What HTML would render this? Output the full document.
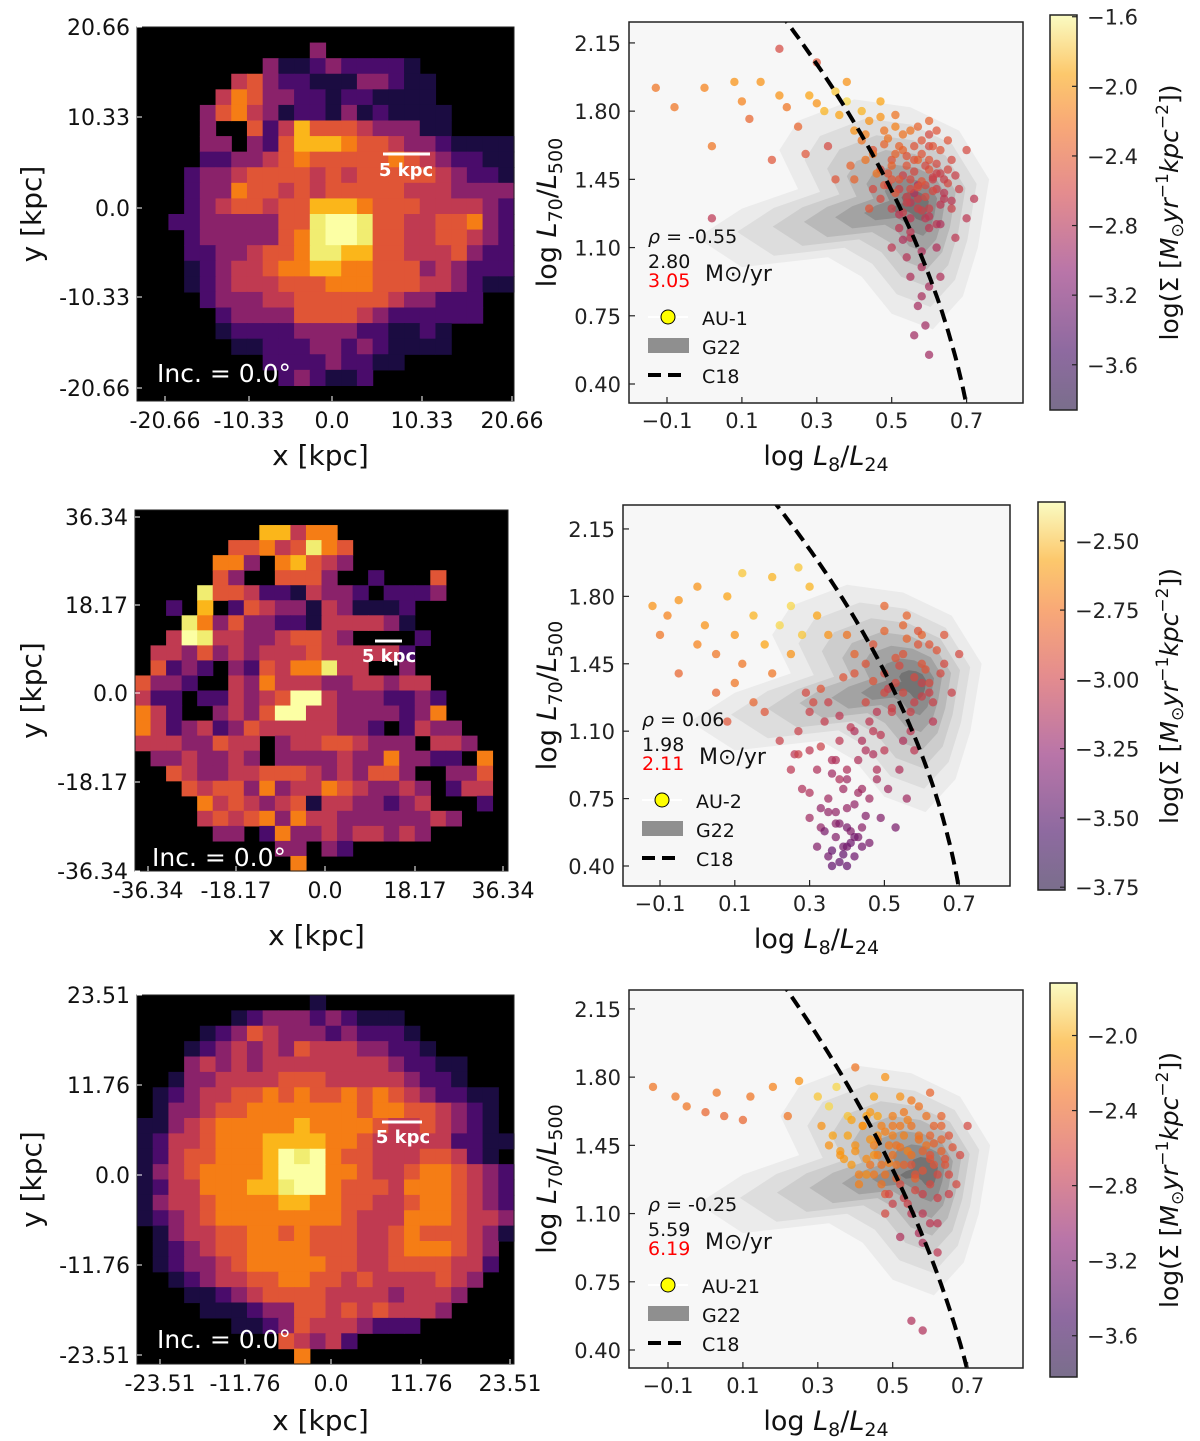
<!DOCTYPE html>
<html><head><meta charset="utf-8">
<style>
html,body{margin:0;padding:0;background:#fff;}
svg{display:block;font-family:"DejaVu Sans","Liberation Sans",sans-serif;}
</style></head>
<body>
<svg id="fig" width="1200" height="1441" viewBox="0 0 1200 1441" xmlns="http://www.w3.org/2000/svg">
<defs>
<linearGradient id="cbgrad" x1="0" y1="1" x2="0" y2="0">
<stop offset="0" stop-color="#7a6e8c"/><stop offset="0.15" stop-color="#8e6aa0"/><stop offset="0.35" stop-color="#b975a8"/>
<stop offset="0.55" stop-color="#e48c8e"/><stop offset="0.72" stop-color="#f8a877"/><stop offset="0.85" stop-color="#fcc86c"/>
<stop offset="1" stop-color="#fafbc2"/>
</linearGradient>
</defs>
</svg>
<script>
// ---------------- DATA ----------------
const mapGrid1 = [
"000000000000000000000000","000000000003000000000000","000000003112322221000000","000000453221113321100000",
"000004653322122111100000","000035643122131211110000","000030052475554333110000","000033032577765543321111",
"000022334565555565432211","000233455554545555543221","000233655454555554443333","000234554557776555444432",
"002233333558998554455632","000233333568998554455432","000223345568877554445322","000123445667766555343222",
"000123444555666555443211","000023334455555543322200","000002333355554322222200","000001222233332211210000",
"000000112223323211110000","000000002222322110000000","000000000232112000000000","000000000000000000000000"];
const mapGrid2 = [
"000000000000000000000000","000000007746600000000000","000000556458650000000000","000006630675430000000000",
"000005300555300200050000","000085542214332022230000","002070254331431112000000","000863533221444431000000",
"004984433455430000200000","044353434445444442000000","052320325466844003000000","533200436444334434400000",
"422022434599433322320000","642003435994433332360000","642342354444433202433000","444335440344554333044300",
"033433430333343363322060","005433445554343553003350","000545536344654334302440","000064543451443323400020",
"000045456364433333343000","000003302633434434300000","000000000330320000000000","000000000060000000000000"];
const mapGrid3 = [
"000000000001000000000000","000000123332321110000000","000012354333232221000000","000123434354443322100000",
"000343434444444432211000","001334444555444443221000","012344556565565654322110","013345566666665665543210",
"113456666676666544543210","124456667777665444442211","124556667989655444554210","134566667999665445665432",
"124466677899655546665432","134456666776655445665432","123456666666654446665443","013445566565554456555431",
"012345566665554456665430","012334566666554455554420","001234455665545444454300","000112345555444434443000",
"000011123355454544430000","000000112354443222000000","000000000543420000000000","000000000060000000000000"];

const imgTicks1 = ["-20.66","-10.33","0.0","10.33","20.66"];
const imgTicks2 = ["-36.34","-18.17","0.0","18.17","36.34"];
const imgTicks3 = ["-23.51","-11.76","0.0","11.76","23.51"];

const xTickVals = [-0.1,0.1,0.3,0.5,0.7];
const yTickVals = [0.40,0.75,1.10,1.45,1.80,2.15];

// scatter series: x = log L8/L24, y = log L70/L500, c = normalised colour (0..1)
const sx1 = [-0.13,-0.08,0.0,0.02,0.08,0.1,0.12,0.15,0.18,0.2,0.22,0.25,0.28,0.3,0.32,0.35,0.36,0.38,0.4,0.42,0.2,0.3,0.02,0.38,0.27,
 0.45,0.47,0.5,0.52,0.55,0.57,0.6,0.62,0.5,0.53,0.48,0.58,0.65,0.66,0.55,0.6,0.63,0.45,0.5,0.57,0.6,0.52,0.68,0.7,0.43,0.55,0.6,0.65,0.47,0.54,0.59,0.62,0.58,0.55,0.6,0.57,0.59,0.56,0.6,0.58,0.54,0.63,0.5,0.67,0.44,0.4,0.42,0.51,0.47,0.44,
 0.56,0.61,0.64,0.49,0.53,0.58,0.62,0.66,0.52,0.57,0.6,0.55,0.48,0.63,0.7,0.72,0.35,0.33,0.39,
 0.49,0.51,0.53,0.55,0.57,0.59,0.61,0.63,0.65,0.50,0.52,0.54,0.56,0.58,0.60,0.62,0.64,0.48,0.46,0.53,0.57,0.61,0.55,0.59,0.63,0.51,0.56,0.60,0.54,0.58,0.62,0.66,0.52,0.57,0.61,0.45,0.49,0.55,0.60,0.64,0.53,0.58,0.43,0.47,0.51,0.56,0.62,0.67,0.59,0.54];
const sy1 = [1.92,1.82,1.92,1.62,1.95,1.85,1.76,1.95,1.55,1.88,1.82,1.72,1.88,1.84,1.8,1.9,1.78,1.85,1.7,1.8,2.12,2.05,1.25,1.95,1.58,
 1.6,1.5,1.55,1.4,1.45,1.35,1.5,1.4,1.3,1.6,1.7,1.65,1.5,1.3,1.25,1.2,1.6,1.4,1.45,1.55,1.3,1.2,1.4,1.25,1.55,1.7,1.75,1.65,1.35,1.52,1.42,1.1,1.0,0.95,0.9,0.8,0.7,0.65,0.55,0.85,1.05,0.95,1.1,1.15,1.3,1.45,1.65,1.78,1.85,1.75,
 1.38,1.45,1.35,1.48,1.28,1.58,1.22,1.55,1.62,1.42,1.62,1.15,1.42,1.48,1.6,1.35,1.45,1.62,1.52,
 1.42,1.38,1.47,1.33,1.41,1.36,1.46,1.32,1.43,1.52,1.27,1.57,1.49,1.29,1.55,1.48,1.38,1.63,1.48,1.68,1.72,1.62,1.18,1.25,1.22,1.58,1.62,1.68,1.36,1.44,1.53,1.34,1.45,1.30,1.39,1.58,1.66,1.40,1.26,1.45,1.14,1.08,1.68,1.77,1.72,1.55,1.70,1.47,1.52,1.33];
const sc1 = [.6,.6,.65,.6,.7,.65,.55,.7,.5,.7,.6,.55,.75,.7,.8,.85,.75,.9,.7,.8,.45,.5,.35,.7,.5,
 .5,.45,.5,.4,.45,.4,.5,.4,.4,.55,.6,.5,.45,.4,.35,.35,.5,.45,.5,.55,.4,.35,.4,.35,.6,.6,.55,.5,.45,.5,.45,.3,.3,.3,.28,.27,.25,.25,.25,.28,.32,.3,.35,.35,.5,.55,.6,.6,.75,.7,
 .3,.4,.35,.5,.4,.5,.35,.45,.55,.3,.45,.35,.5,.4,.45,.35,.5,.45,.55,
 .45,.5,.4,.35,.5,.45,.4,.35,.45,.55,.35,.5,.45,.4,.5,.4,.35,.55,.6,.6,.55,.5,.35,.35,.3,.55,.5,.45,.4,.5,.45,.35,.5,.4,.45,.6,.6,.45,.35,.4,.3,.3,.65,.7,.65,.5,.5,.4,.45,.4];

const sx2 = [-0.12,-0.08,-0.05,-0.1,0.0,0.02,0.05,0.0,0.08,0.1,0.12,0.15,0.18,0.2,0.22,0.25,0.28,0.3,0.05,0.1,0.15,0.2,0.25,-0.05,0.32,0.35,0.12,0.27,0.18,0.08,
 0.3,0.32,0.28,0.35,0.38,0.4,0.33,0.37,0.4,0.35,0.38,0.42,0.44,0.46,0.3,0.25,0.22,0.27,0.43,0.48,0.5,0.36,0.4,0.32,
 0.5,0.55,0.6,0.58,0.62,0.52,0.65,0.55,0.47,0.6,0.68,0.53,0.45,0.63,0.7,0.57,0.42,0.5,0.4,
 0.3,0.34,0.38,0.42,0.45,0.48,0.36,0.4,0.44,0.33,0.29,0.37,0.41,0.46,0.51,0.54,0.58,0.56,0.6,0.62,0.66,0.55,0.5,0.47,0.39,0.43,0.35,0.31,0.26,0.49,0.53,
 0.35,0.38,0.41,0.44,0.47,0.36,0.39,0.42,0.45,0.48,0.33,0.37,0.40,0.43,0.46,0.49,0.52,0.55,0.58,0.61,0.53,0.56,0.59,0.62,0.64,0.57,0.60,0.51,0.54,0.66,0.34,0.38,0.41,0.36,0.39,0.42,0.37,0.40,0.44,0.30,0.27,0.33,0.47,0.50,0.56,0.59,0.63,0.45,0.42,0.39];
const sy2 = [1.75,1.7,1.78,1.6,1.55,1.65,1.5,1.85,1.8,1.6,1.45,1.7,1.55,1.9,1.65,1.75,1.6,1.85,1.3,1.35,1.25,1.4,1.5,1.4,1.7,1.6,1.92,1.95,1.2,1.15,
 1.0,0.9,0.8,0.75,0.85,0.7,0.6,0.55,0.5,0.45,0.42,0.45,0.6,0.75,0.65,0.9,1.05,1.1,0.95,0.9,1.0,0.4,0.4,0.5,
 1.4,1.5,1.35,1.25,1.55,1.2,1.4,1.65,1.55,1.45,1.3,1.35,1.25,1.15,1.5,1.1,1.4,1.75,1.6,
 1.2,1.15,1.05,1.1,1.0,1.2,0.95,0.85,0.8,0.7,1.3,0.62,0.58,0.52,0.8,0.9,1.0,0.75,1.6,1.3,1.45,1.05,1.3,1.1,0.5,0.55,0.68,1.25,0.98,0.65,0.6,
 1.25,1.18,1.12,1.05,0.98,0.88,0.80,0.72,0.66,0.85,1.02,0.95,0.90,0.78,1.15,1.08,1.22,1.30,1.38,1.42,1.48,1.58,1.62,1.35,1.52,1.2,1.28,1.32,1.44,1.60,0.58,0.62,0.52,0.48,0.46,0.55,0.68,0.60,0.50,0.78,0.98,1.32,1.36,1.62,1.70,1.55,1.25,1.45,1.50,1.38];
const sc2 = [.7,.65,.7,.6,.65,.7,.6,.7,.75,.7,.6,.8,.75,.8,.9,.9,.85,.8,.55,.6,.55,.6,.7,.55,.75,.7,.85,.85,.5,.5,
 .35,.3,.3,.25,.3,.22,.2,.15,.1,.1,.05,.08,.18,.25,.25,.35,.4,.4,.3,.3,.35,.05,.05,.15,
 .45,.5,.4,.4,.5,.4,.45,.55,.5,.5,.4,.45,.45,.35,.45,.35,.5,.55,.6,
 .4,.38,.35,.3,.3,.35,.3,.25,.25,.2,.45,.18,.15,.12,.25,.3,.35,.25,.55,.4,.45,.3,.45,.35,.1,.12,.2,.45,.35,.15,.12,
 .4,.35,.35,.3,.3,.25,.25,.2,.15,.28,.4,.3,.3,.25,.35,.35,.4,.45,.45,.5,.5,.55,.5,.45,.5,.4,.4,.4,.45,.5,.12,.15,.08,.06,.05,.1,.2,.12,.1,.3,.4,.5,.5,.55,.55,.5,.4,.5,.55,.5];

const sx3 = [-0.14,-0.08,-0.05,0.0,0.05,0.1,0.03,0.12,0.18,0.22,0.25,0.3,0.33,0.35,0.38,0.45,0.4,0.48,0.42,0.5,0.55,0.6,0.45,0.5,0.55,0.6,0.65,0.52,0.58,0.62,0.48,0.53,0.57,0.63,0.68,0.55,0.5,0.6,0.65,0.44,0.4,0.38,0.47,0.58,0.55,0.58,0.62,0.7,0.52,
 0.36,0.39,0.43,0.46,0.49,0.51,0.54,0.56,0.59,0.61,0.64,0.67,0.41,0.33,0.31,0.46,0.52,0.57,0.6,0.63,0.53,0.48,0.45,0.43,
 0.40,0.43,0.46,0.49,0.52,0.55,0.58,0.61,0.64,0.42,0.45,0.48,0.51,0.54,0.57,0.60,0.63,0.66,0.37,0.34,0.44,0.47,0.50,0.53,0.56,0.59,0.62,0.41,0.46,0.51,0.56,0.61,0.49,0.54,0.58,0.62,0.52,0.57,0.48,0.44,0.39,0.36,0.55,0.60,0.65,0.53,0.58,0.50,0.47,0.63];
const sy3 = [1.75,1.7,1.65,1.62,1.6,1.58,1.72,1.7,1.75,1.6,1.78,1.7,1.65,1.75,1.6,1.7,1.85,1.8,1.55,1.6,1.55,1.5,1.45,1.4,1.35,1.4,1.5,1.25,1.2,1.3,1.3,1.5,1.65,1.6,1.4,1.1,1.15,1.05,1.2,1.35,1.45,1.5,1.55,0.95,0.55,0.5,0.9,1.55,1.7,
 1.4,1.35,1.3,1.5,1.45,1.35,1.42,1.28,1.45,1.55,1.35,1.25,1.25,1.45,1.55,1.6,1.55,1.48,1.38,1.42,1.18,1.2,1.4,1.6,
 1.42,1.38,1.48,1.36,1.44,1.40,1.32,1.46,1.38,1.55,1.30,1.52,1.28,1.58,1.50,1.25,1.55,1.44,1.38,1.50,1.62,1.25,1.50,1.62,1.22,1.60,1.18,1.30,1.40,1.45,1.30,1.35,1.20,1.15,1.10,1.05,0.98,1.00,1.10,1.48,1.58,1.42,1.68,1.72,1.30,1.35,1.42,1.55,1.35,1.48];
const sc3 = [.6,.6,.6,.55,.55,.55,.6,.6,.65,.6,.7,.85,.9,.9,.85,.75,.6,.7,.7,.65,.6,.55,.65,.6,.5,.5,.5,.45,.4,.45,.6,.65,.6,.55,.45,.35,.4,.35,.4,.6,.7,.75,.65,.3,.3,.3,.35,.45,.7,
 .7,.72,.68,.7,.62,.6,.65,.55,.6,.55,.5,.45,.65,.7,.7,.75,.62,.6,.5,.55,.4,.5,.7,.75,
 .7,.68,.65,.65,.6,.6,.5,.55,.5,.7,.62,.65,.55,.65,.6,.45,.55,.5,.72,.75,.72,.6,.65,.62,.45,.6,.4,.65,.65,.6,.5,.5,.45,.4,.35,.35,.3,.3,.45,.7,.75,.72,.62,.55,.45,.55,.55,.62,.6,.55];

// G22 contour outline (data coords) and level fractions
const contourX = [0.25,0.40,0.55,0.68,0.76,0.73,0.69,0.61,0.50,0.42,0.33,0.10,-0.02,0.10,0.25,0.20];
const contourY = [1.75,1.86,1.82,1.70,1.45,1.10,0.85,0.68,0.76,0.95,1.05,1.00,1.15,1.30,1.40,1.60];
const contourLevels = [1.0,0.82,0.66,0.52,0.38,0.25,0.13];

// C18 relation: three points per panel, curve drawn as quadratic x(y) through them
const c18x1 = [0.220,0.503,0.698];
const c18y1 = [2.257,1.380,0.308];
const c18x2 = [0.218,0.518,0.699];
const c18y2 = [2.259,1.340,0.286];
const c18x3 = [0.218,0.485,0.698];
const c18y3 = [2.247,1.385,0.308];

const cbTicks1 = [-1.6,-2.0,-2.4,-2.8,-3.2,-3.6];
const cbTicks2 = [-2.50,-2.75,-3.00,-3.25,-3.50,-3.75];
const cbTicks3 = [-2.0,-2.4,-2.8,-3.2,-3.6];

// ---------------- RENDER ----------------
const NS="http://www.w3.org/2000/svg";
const svg=document.getElementById('fig');
function el(tag,attrs,parent){const e=document.createElementNS(NS,tag);for(const k in attrs)e.setAttribute(k,attrs[k]);(parent||svg).appendChild(e);return e;}
const levelCol=['#000000','#1b0c41','#4a0c6b','#8a226a','#c03a51','#e05536','#f57d15','#fbb61a','#f1ed71','#fcffa4'];
const inf=[[0,[0,0,4]],[0.1,[22,11,57]],[0.2,[66,10,104]],[0.3,[106,23,110]],[0.4,[147,38,103]],[0.5,[188,55,84]],[0.6,[221,81,58]],[0.7,[243,120,25]],[0.8,[252,165,10]],[0.9,[246,215,70]],[1,[252,255,164]]];
function infCol(t){t=Math.max(0,Math.min(1,t));for(let i=1;i<inf.length;i++){if(t<=inf[i][0]){const a=inf[i-1],b=inf[i];const f=(t-a[0])/(b[0]-a[0]);const c=a[1].map((v,j)=>Math.round(v+(b[1][j]-v)*f));return 'rgb('+c.join(',')+')';}}return 'rgb(252,255,164)';}
function lagrangeX(xs,ys,y){let s=0;for(let i=0;i<xs.length;i++){let l=1;for(let j=0;j<xs.length;j++){if(j!==i)l*=(y-ys[j])/(ys[i]-ys[j]);}s+=xs[i]*l;}return s;}

const rows=[
 {grid:mapGrid1,ticks:imgTicks1,img:[137,27,514,401],xt:[165,249,332,422,512],yt:[27,117,208,297,388],sb:[383,430,154,406,176],inc:[157,382],xlab:455,
  sc:{x:sx1,y:sy1,c:sc1},plot:[629,22,1023,403],x0:667,ux:374.5,y0:384,uy:194.9,cen:[0.575,1.32],cx:c18x1,cy:c18y1,au:'AU-1',rho:'-0.55',s1:'2.80',s2:'3.05',
  cb:[1050,15,1077,410],cbt:cbTicks1,cbTop:-1.59,cbBot:-3.86},
 {grid:mapGrid2,ticks:imgTicks2,img:[135,510,508,871],xt:[148,236,325,415,503],yt:[517,605,693,782,871],sb:[375,402,641,389,662],inc:[152,866],xlab:935,
  sc:{x:sx2,y:sy2,c:sc2},plot:[623,505,1010,886],x0:660,ux:374,y0:866,uy:192.6,cen:[0.59,1.35],cx:c18x2,cy:c18y2,au:'AU-2',rho:'0.06',s1:'1.98',s2:'2.11',
  cb:[1038,502,1065,890],cbt:cbTicks2,cbTop:-2.36,cbBot:-3.76},
 {grid:mapGrid3,ticks:imgTicks3,img:[137,995,514,1364],xt:[160,245,331,421,510],yt:[995,1085,1175,1265,1355],sb:[382,422,1122,403,1143],inc:[157,1348],xlab:1420,
  sc:{x:sx3,y:sy3,c:sc3},plot:[629,990,1023,1368],x0:668,ux:374.5,y0:1350,uy:194.9,cen:[0.6,1.32],cx:c18x3,cy:c18y3,au:'AU-21',rho:'-0.25',s1:'5.59',s2:'6.19',
  cb:[1050,983,1077,1377],cbt:cbTicks3,cbTop:-1.72,cbBot:-3.82}
];

rows.forEach((R,ri)=>{
  const g=el('g',{});
  
  
  const [ix0,iy0,ix1,iy1]=R.img;
  const bg=el('rect',{x:ix0,y:iy0,width:ix1-ix0,height:iy1-iy0,fill:'#000'},g);
  
  
  const n=R.grid.length, cw=(ix1-ix0)/n, ch=(iy1-iy0)/n;
  R.grid.forEach((row,r)=>{for(let c=0;c<row.length;c++){const v=+row[c];if(v>0){
    const cell=el('rect',{x:(ix0+c*cw).toFixed(2),y:(iy0+r*ch).toFixed(2),width:(cw+0.6).toFixed(2),height:(ch+0.6).toFixed(2),fill:levelCol[v]},g);
    
    
  }}});
  el('rect',{x:ix0,y:iy0,width:ix1-ix0,height:iy1-iy0,fill:'none',stroke:'#222','stroke-width':1},g);
  R.ticks.forEach((t,i)=>{
    const xl=el('text',{x:R.xt[i],y:iy1+27,'font-size':22,'text-anchor':'middle',fill:'#111'},g);xl.textContent=t;
    
    
    el('line',{x1:R.xt[i],x2:R.xt[i],y1:iy1,y2:iy1-5,stroke:'#fff','stroke-width':1},g);
    const yv=R.ticks[R.ticks.length-1-i];
    const yl=el('text',{x:ix0-7,y:R.yt[i]+8,'font-size':22,'text-anchor':'end',fill:'#111'},g);yl.textContent=yv;
    
    
    el('line',{x1:ix0,x2:ix0+5,y1:R.yt[i],y2:R.yt[i],stroke:'#fff','stroke-width':1},g);
  });
  const xlab=el('text',{x:(ix0+ix1)/2-5,y:R.xlab+10,'font-size':28,'text-anchor':'middle',fill:'#111'},g);xlab.textContent='x [kpc]';
  
  
  const ylab=el('text',{x:0,y:0,'font-size':28,'text-anchor':'middle',fill:'#111',transform:`translate(41,${(iy0+iy1)/2}) rotate(-90)`},g);ylab.textContent='y [kpc]';
  
  
  const [sbx0,sbx1,sby,stx,sty]=R.sb;
  const sbl=el('line',{x1:sbx0,x2:sbx1,y1:sby,y2:sby,stroke:'#fff','stroke-width':3},g);
  
  
  const sbt=el('text',{x:stx,y:sty,'font-size':18,'font-weight':'bold','text-anchor':'middle',fill:'#fff'},g);sbt.textContent='5 kpc';
  
  
  const inc=el('text',{x:R.inc[0],y:R.inc[1],'font-size':25,fill:'#fff'},g);inc.textContent='Inc. = 0.0°';
  
  

  const sg=el('g',{});
  
  
  const [px0,py0,px1,py1]=R.plot;
  const X=v=>R.x0+(v+0.1)*R.ux, Y=v=>R.y0-(v-0.4)*R.uy;
  const cid='clip'+ri;
  const cp=el('clipPath',{id:cid},sg);el('rect',{x:px0,y:py0,width:px1-px0,height:py1-py0},cp);
  el('rect',{x:px0,y:py0,width:px1-px0,height:py1-py0,fill:'#f7f7f7'},sg);
  const inner=el('g',{'clip-path':`url(#${cid})`},sg);
  const greys=['#ebebeb','#dddddd','#cdcdcd','#b9b9b9','#a3a3a3','#8c8c8c','#737373'];
  contourLevels.forEach((s,li)=>{
    const pts=contourX.map((x,i)=>{const dx=R.cen[0]+(x-R.cen[0])*s, dy=R.cen[1]+(contourY[i]-R.cen[1])*s;return X(dx).toFixed(1)+','+Y(dy).toFixed(1);}).join(' ');
    const p=el('polygon',{points:pts,fill:greys[li]},inner);
    
    
  });
  R.sc.x.forEach((x,i)=>{
    const d=el('circle',{cx:X(x).toFixed(1),cy:Y(R.sc.y[i]).toFixed(1),r:4.2,fill:infCol(0.25+0.72*R.sc.c[i]),'fill-opacity':0.72},inner);
    
    
  });
  const yTop=Math.max(...R.cy)+0.05, yBot=Math.min(...R.cy)-0.05;
  let dpath='';
  for(let k=0;k<=60;k++){const yy=yTop+(yBot-yTop)*k/60;const xx=lagrangeX(R.cx,R.cy,yy);dpath+=(k?'L':'M')+X(xx).toFixed(1)+' '+Y(yy).toFixed(1);}
  const c18=el('path',{d:dpath,fill:'none',stroke:'#000','stroke-width':4,'stroke-dasharray':'13,7'},inner);
  
  
  el('rect',{x:px0,y:py0,width:px1-px0,height:py1-py0,fill:'none',stroke:'#222','stroke-width':1.5},sg);
  xTickVals.forEach(v=>{
    el('line',{x1:X(v),x2:X(v),y1:py1,y2:py1-6,stroke:'#222','stroke-width':1.2},sg);
    const t=el('text',{x:X(v),y:py1+25,'font-size':21,'text-anchor':'middle',fill:'#222'},sg);t.textContent=(v<0?'\u2212':'')+Math.abs(v).toFixed(1);
    
    
  });
  yTickVals.forEach(v=>{
    el('line',{x1:px0,x2:px0+6,y1:Y(v),y2:Y(v),stroke:'#222','stroke-width':1.2},sg);
    const t=el('text',{x:px0-8,y:Y(v)+8,'font-size':21,'text-anchor':'end',fill:'#222'},sg);t.textContent=v.toFixed(2);
    
    
  });
  const xt=el('text',{x:(px0+px1)/2,y:py1+62,'font-size':27,'text-anchor':'middle',fill:'#111'},sg);
  xt.innerHTML='log  <tspan font-style="italic">L</tspan><tspan font-size="19" dy="6">8</tspan><tspan dy="-6">/</tspan><tspan font-style="italic">L</tspan><tspan font-size="19" dy="6">24</tspan>';
  
  
  const yt=el('text',{x:0,y:0,'font-size':27,'text-anchor':'middle',fill:'#111',transform:`translate(556,${(py0+py1)/2}) rotate(-90)`},sg);
  yt.innerHTML='log  <tspan font-style="italic">L</tspan><tspan font-size="19" dy="6">70</tspan><tspan dy="-6">/</tspan><tspan font-style="italic">L</tspan><tspan font-size="19" dy="6">500</tspan>';
  
  
  const lx=px0+19, ly=py0;
  const rho=el('text',{x:lx,y:ly+221,'font-size':19,fill:'#111'},sg);rho.innerHTML='<tspan font-style="italic">ρ</tspan> = '+R.rho;
  
  
  const s1=el('text',{x:lx,y:ly+246,'font-size':19,fill:'#111'},sg);s1.textContent=R.s1;
  
  
  const s2=el('text',{x:lx,y:ly+265,'font-size':19,fill:'#f00'},sg);s2.textContent=R.s2;
  
  
  const un=el('text',{x:lx+57,y:ly+259,'font-size':22,fill:'#111'},sg);un.textContent='M\u2299/yr';
  
  
  el('line',{x1:lx,x2:lx+40,y1:ly+295,y2:ly+295,stroke:'#fff','stroke-width':2},sg);
  const au=el('circle',{cx:lx+20,cy:ly+295,r:7,fill:'#ffff00',stroke:'#000','stroke-width':1},sg);
  
  
  const aut=el('text',{x:lx+54,y:ly+303,'font-size':19,fill:'#111'},sg);aut.textContent=R.au;
  
  
  const gr=el('rect',{x:lx,y:ly+316,width:41,height:15,fill:'#8f8f8f'},sg);
  
  
  const grt=el('text',{x:lx+54,y:ly+332,'font-size':19,fill:'#111'},sg);grt.textContent='G22';
  
  
  const dl=el('line',{x1:lx,x2:lx+40,y1:ly+353,y2:ly+353,stroke:'#000','stroke-width':4,'stroke-dasharray':'13,7'},sg);
  
  
  const dlt=el('text',{x:lx+54,y:ly+361,'font-size':19,fill:'#111'},sg);dlt.textContent='C18';
  
  

  const cg=el('g',{});
  
  
  const [bx0,by0,bx1,by1]=R.cb;
  el('rect',{x:bx0,y:by0,width:bx1-bx0,height:by1-by0,fill:'url(#cbgrad)',stroke:'#222','stroke-width':1.5},cg);
  R.cbt.forEach(v=>{
    const yy=by0+(R.cbTop-v)/(R.cbTop-R.cbBot)*(by1-by0);
    el('line',{x1:bx1,x2:bx1-5,y1:yy,y2:yy,stroke:'#222','stroke-width':1.2},cg);
    const t=el('text',{x:bx1+10,y:yy+8,'font-size':21,fill:'#222'},cg);
    t.textContent='\u2212'+Math.abs(v).toFixed(ri===1?2:1);
    
    
  });
  const ct=el('text',{x:0,y:0,'font-size':25,'text-anchor':'middle',fill:'#111',transform:`translate(1178,${(by0+by1)/2}) rotate(-90)`},cg);
  ct.innerHTML='log(Σ [<tspan font-style="italic">M</tspan><tspan font-size="17" dy="5">⊙</tspan><tspan dy="-5" font-style="italic">yr</tspan><tspan font-size="17" dy="-10">−1</tspan><tspan dy="10" font-style="italic">kpc</tspan><tspan font-size="17" dy="-10">−2</tspan><tspan dy="10">])</tspan>';
  
  
});
</script>
</body></html>
